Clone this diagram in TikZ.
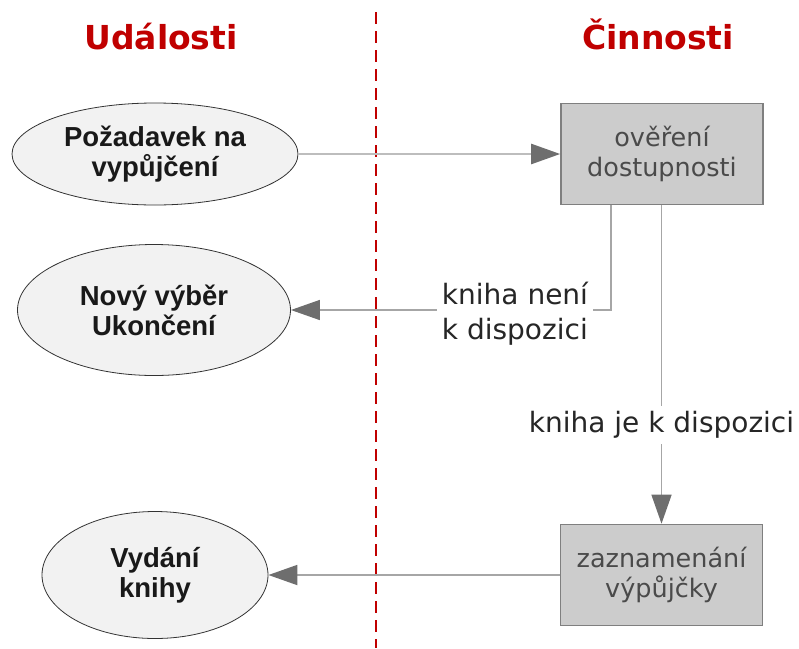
\documentclass[tikz,border=0pt]{standalone}
\usepackage{fontspec}
\setmainfont{DejaVu Sans}
\newfontfamily\evfont{Liberation Sans}
\usetikzlibrary{arrows.meta,calc,shapes.geometric}

\definecolor{titlered}{HTML}{C00000}
\definecolor{evfill}{HTML}{F2F2F2}
\definecolor{actfill}{HTML}{CCCCCC}
\definecolor{actline}{HTML}{7F7F7F}
\definecolor{actText}{HTML}{4A4A4A}
\definecolor{flowline}{HTML}{A6A6A6}
\definecolor{flowlight}{HTML}{BDBDBD}
\definecolor{tipgray}{HTML}{6E6E6E}

\tikzset{
  lanetitle/.style={font=\bfseries\fontsize{33}{38}\selectfont, text=titlered, inner sep=0pt, anchor=base},
  divider/.style={draw=titlered, line width=2pt, dash pattern=on 12pt off 7pt},
  event/.style={ellipse, draw=black!80, line width=0.8pt, fill=evfill, inner sep=0pt,
    align=center, font=\evfont\bfseries\fontsize{27.5}{30}\selectfont, text=black!90},
  activity/.style={rectangle, draw=actline, line width=1.6pt, fill=actfill, inner sep=0pt,
    minimum width=202pt, minimum height=101pt, align=center,
    font=\fontsize{25.5}{29.5}\selectfont, text=actText},
  flow/.style={draw=flowline, line width=1.4pt,
    -{Triangle[length=29pt, width=20pt, color=tipgray]}},
  cond/.style={fill=white, inner sep=5pt, font=\fontsize{28}{35}\selectfont, text=black!85}
}

\begin{document}
\begin{tikzpicture}[x=1pt, y=-1pt]
  \useasboundingbox (0,0) rectangle (799,648);

  % swimlane headings and separator
  \node[lanetitle] (tEvents) at (161,49) {Události};
  \node[lanetitle] (tActs) at (658,49) {Činnosti};
  \coordinate (sepTop) at (376,12);
  \coordinate (sepBot) at (376,648);
  \draw[divider] (sepTop) -- (sepBot);

  % events
  \node[event, minimum width=286pt, minimum height=102pt] (e1) at (155,154) {Požadavek na\\vypůjčení};
  \node[event, minimum width=273pt, minimum height=131pt] (e2) at (154,310) {Nový výběr\\Ukončení};
  \node[event, minimum width=226pt, minimum height=127pt] (e3) at (155,575) {Vydání\\knihy};

  % activities
  \node[activity] (a1) at (662,154) {ověření\\dostupnosti};
  \node[activity] (a2) at (661.5,575) {zaznamenání\\výpůjčky};

  % flows
  \draw[flow, draw=flowlight, line width=2.4pt] (e1) -- (a1);
  \draw[flow] ($(a1.south)+(-51,0)$) |- (e2.east)
    node[cond, pos=0.65, yshift=-4pt, align=left] (cNo) {kniha není\\k dispozici};
  \draw[flow] (a1.south -| a2.north) -- (a2.north)
    node[cond, pos=0.69] (cYes) {kniha je k dispozici};
  \draw[flow, line width=1.8pt] (a2) -- (e3);
\end{tikzpicture}
\end{document}
